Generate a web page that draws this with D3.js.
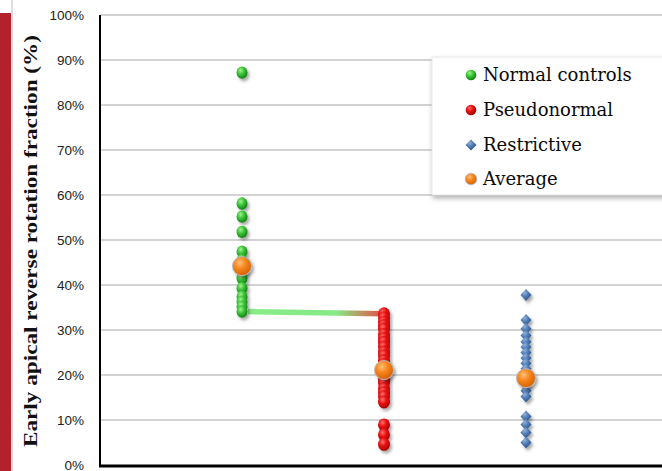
<!DOCTYPE html>
<html><head><meta charset="utf-8">
<script src="https://cdn.jsdelivr.net/npm/d3@7"></script>
<style>body{margin:0;background:#fff;overflow:hidden}svg{display:block}</style>
</head><body>
<script>
// Early apical reverse rotation fraction by group
const groups = ["Normal controls", "Pseudonormal", "Restrictive"];
const normalControls = [0.872, 0.581, 0.552, 0.518, 0.474, 0.455, 0.43, 0.415, 0.393, 0.374, 0.363, 0.352, 0.341];
const pseudonormal = [0.336, 0.327, 0.318, 0.31, 0.302, 0.29, 0.281, 0.273, 0.262, 0.251, 0.243, 0.232, 0.224,
  0.213, 0.202, 0.191, 0.182, 0.17, 0.161, 0.152, 0.14, 0.089, 0.067, 0.046];
const restrictive = [0.378, 0.322, 0.303, 0.288, 0.274, 0.262, 0.25, 0.238, 0.226, 0.214, 0.195, 0.178, 0.165,
  0.152, 0.108, 0.09, 0.072, 0.05];
const averages = [0.442, 0.211, 0.193];
// threshold link: lowest normal value to highest pseudonormal value
const linkValues = [0.341, 0.336];
const yTicks = [0, 0.1, 0.2, 0.3, 0.4, 0.5, 0.6, 0.7, 0.8, 0.9, 1.0];
const legendLabels = ["Normal controls", "Pseudonormal", "Restrictive", "Average"];

const W = 662, H = 471;
const svg = d3.select("body").append("svg").attr("width", W).attr("height", H);
const defs = svg.append("defs");

function radial(id, stops) {
  const g = defs.append("radialGradient").attr("id", id)
    .attr("cx", "38%").attr("cy", "32%").attr("r", "70%");
  stops.forEach(([o, c]) => g.append("stop").attr("offset", o).attr("stop-color", c));
}
radial("gGreen", [["0%", "#9ef58a"], ["45%", "#3cc43a"], ["100%", "#11800f"]]);
radial("gRed", [["0%", "#ff7070"], ["45%", "#e81010"], ["100%", "#a80000"]]);
radial("gBlue", [["0%", "#8fb2dc"], ["50%", "#4a78b0"], ["100%", "#2a5388"]]);
radial("gOrange", [["0%", "#ffc07a"], ["45%", "#f6861c"], ["100%", "#d56000"]]);

const lg = defs.append("linearGradient").attr("id", "gLink")
  .attr("x1", "0%").attr("x2", "100%").attr("y1", "0%").attr("y2", "0%");
[["0%", "#86ec86"], ["65%", "#86ea86"], ["100%", "#ea4848"]]
  .forEach(([o, c]) => lg.append("stop").attr("offset", o).attr("stop-color", c));

const sh = defs.append("filter").attr("id", "shadow")
  .attr("x", "-50%").attr("y", "-50%").attr("width", "200%").attr("height", "200%");
sh.append("feDropShadow").attr("dx", 2).attr("dy", 2.5).attr("stdDeviation", 1.4)
  .attr("flood-color", "#000").attr("flood-opacity", 0.35);

const boxShadow = defs.append("filter").attr("id", "boxShadow")
  .attr("x", "-10%").attr("y", "-10%").attr("width", "130%").attr("height", "130%");
boxShadow.append("feDropShadow").attr("dx", 1).attr("dy", 3).attr("stdDeviation", 2.5)
  .attr("flood-color", "#000").attr("flood-opacity", 0.3);

// side band
svg.append("rect").attr("x", 0).attr("y", 13).attr("width", 11).attr("height", H - 13).attr("fill", "#b3222b");
svg.append("line").attr("x1", 12).attr("x2", 12).attr("y1", 0).attr("y2", H)
  .attr("stroke", "#c8c8c8").attr("stroke-width", 1.2);

const x = d3.scaleLinear().domain([0, 4]).range([100, 668]);
const y = d3.scaleLinear().domain([0, 1]).range([465, 15]);

// gridlines
svg.append("g").selectAll("line").data(yTicks.filter(d => d > 0)).join("line")
  .attr("x1", 100).attr("x2", W).attr("y1", d => y(d)).attr("y2", d => y(d))
  .attr("stroke", "#c4c4c4").attr("stroke-width", 1.5);

// y axis labels
const yAxis = svg.append("g").attr("transform", "translate(100,0)")
  .call(d3.axisLeft(y).tickValues(yTicks).tickFormat(d3.format(".0%")).tickSize(0).tickPadding(16));
yAxis.select(".domain").remove();
yAxis.selectAll("text").attr("font-family", "'Liberation Sans', Arial, sans-serif")
  .attr("font-size", 13.5).attr("fill", "#222");

// y axis title
svg.append("text").attr("transform", "translate(30,241) rotate(-90)")
  .attr("text-anchor", "middle").attr("dy", "0.35em")
  .attr("font-family", "'Liberation Serif', 'Times New Roman', serif")
  .attr("font-weight", "bold").attr("font-size", 19.5).attr("fill", "#111")
  .attr("textLength", 412).attr("lengthAdjust", "spacingAndGlyphs")
  .text("Early apical reverse rotation fraction (%)");

// link between groups
svg.append("line")
  .attr("x1", x(1) + 6).attr("x2", x(2)).attr("y1", y(linkValues[0])).attr("y2", y(linkValues[1]))
  .attr("stroke", "url(#gLink)").attr("stroke-width", 5.5);

// points
const pts = svg.append("g").attr("filter", "url(#shadow)");
pts.selectAll("ellipse.n").data(normalControls).join("ellipse").attr("class", "n")
  .attr("cx", x(1)).attr("cy", d => y(d)).attr("rx", 5.5).attr("ry", 6.2).attr("fill", "url(#gGreen)");
pts.selectAll("ellipse.p").data(pseudonormal).join("ellipse").attr("class", "p")
  .attr("cx", x(2)).attr("cy", d => y(d)).attr("rx", 6).attr("ry", 6.5).attr("fill", "url(#gRed)");
const diamond = (cx, cy, w, h) => `M${cx},${cy - h}L${cx + w},${cy}L${cx},${cy + h}L${cx - w},${cy}Z`;
pts.selectAll("path.r").data(restrictive).join("path").attr("class", "r")
  .attr("d", d => diamond(x(3), y(d), 5.5, 6)).attr("fill", "url(#gBlue)");

// averages
svg.append("g").attr("filter", "url(#shadow)").selectAll("circle").data(averages).join("circle")
  .attr("cx", (d, i) => x(i + 1)).attr("cy", d => y(d)).attr("r", 9.5)
  .attr("fill", "url(#gOrange)").attr("stroke", "#b8b8c0").attr("stroke-width", 1);

// axes lines
svg.append("line").attr("x1", 100).attr("x2", 100).attr("y1", 15).attr("y2", 467)
  .attr("stroke", "#000").attr("stroke-width", 2);
svg.append("line").attr("x1", 99).attr("x2", W).attr("y1", 466).attr("y2", 466)
  .attr("stroke", "#000").attr("stroke-width", 3);

// legend
const leg = svg.append("g");
leg.append("rect").attr("x", 432).attr("y", 57).attr("width", 250).attr("height", 138)
  .attr("fill", "#fff").attr("stroke", "#e2e2e2").attr("stroke-width", 0.8).attr("filter", "url(#boxShadow)");
const rowY = [75, 110, 145, 179];
const fills = ["url(#gGreen)", "url(#gRed)", "url(#gBlue)", "url(#gOrange)"];
legendLabels.forEach((lab, i) => {
  if (i === 2) {
    leg.append("path").attr("d", diamond(471, rowY[i], 5.5, 5.5)).attr("fill", fills[i]);
  } else {
    leg.append("circle").attr("cx", 471).attr("cy", rowY[i]).attr("r", i === 3 ? 5.8 : 5.3)
      .attr("fill", fills[i]).attr("stroke", i === 3 ? "#b8b8c0" : "none").attr("stroke-width", 0.8);
  }
  leg.append("text").attr("x", 483).attr("y", rowY[i]).attr("dy", "0.35em")
    .attr("font-family", "'DejaVu Serif', serif").attr("font-size", 18).attr("fill", "#0a0a0a")
    .text(lab);
});
</script>
</body></html>
